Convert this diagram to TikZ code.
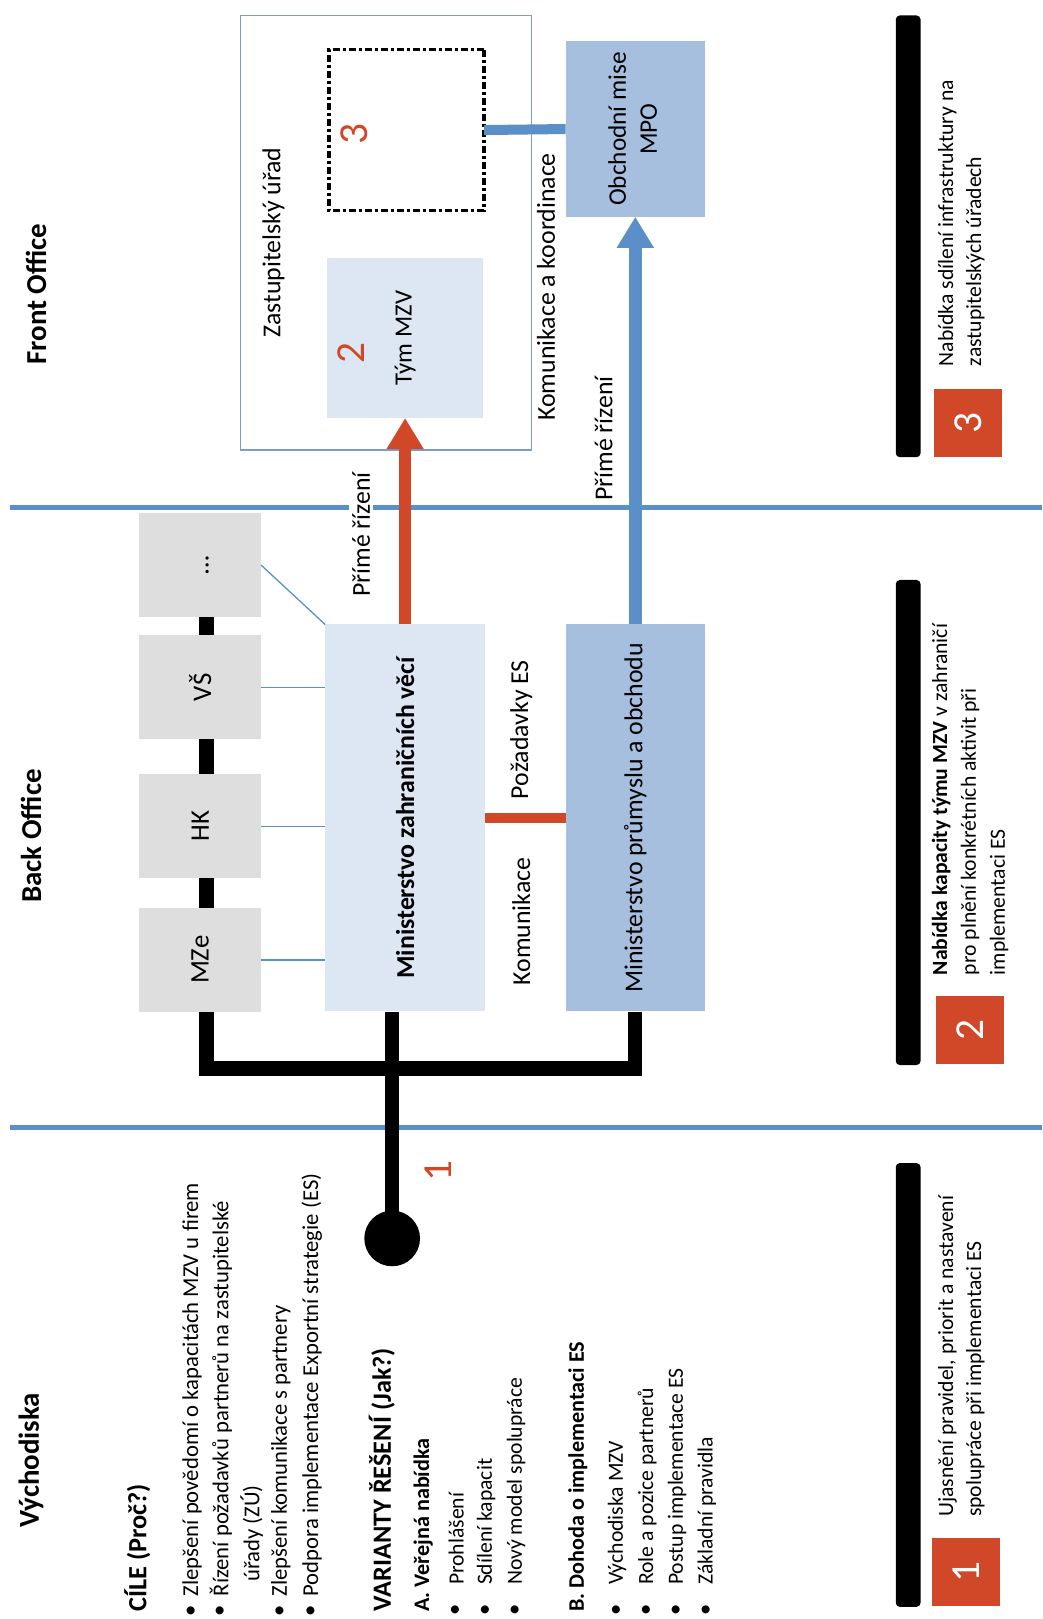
\documentclass[tikz,border=0pt]{standalone}
\usepackage{fontspec}
\setmainfont{Carlito}
\usepackage{graphicx}
\usetikzlibrary{arrows.meta,backgrounds}
\definecolor{bl}{RGB}{91,143,199}
\definecolor{rd}{RGB}{209,72,41}
\definecolor{lb}{RGB}{221,231,243}
\definecolor{mb}{RGB}{167,191,222}
\definecolor{gr}{RGB}{222,222,222}
\definecolor{ob}{RGB}{124,156,200}
\tikzset{
 txt/.style={rotate=90, inner sep=0pt, anchor=west, font=\fontsize{22}{27}\selectfont},
 ltxt/.style={txt, font=\fontsize{21}{26}\selectfont},
 hd/.style={txt, font=\bfseries\fontsize{25.5}{30}\selectfont},
 shd/.style={txt, font=\bfseries\fontsize{21.5}{26}\selectfont},
 bul/.style={rotate=90, inner sep=0pt, font=\fontsize{22}{27}\selectfont},
 sec/.style={rotate=90, inner sep=0pt, font=\bfseries\fontsize{28}{32}\selectfont},
 clbl/.style={rotate=90, inner sep=0pt, font=\fontsize{25}{30}\selectfont},
 box/.style={inner sep=0pt, outer sep=0pt, draw=none, font=\fontsize{25}{30}\selectfont},
 gbox/.style={box, fill=gr, minimum width=118pt, minimum height=101pt, font=\fontsize{26}{30}\selectfont},
 blk/.style={line width=14.5pt, black},
 sepl/.style={line width=5pt, bl},
 thinl/.style={line width=1.3pt, bl},
 redc/.style={line width=10pt, rd},
 arr/.style={line width=12.5pt, -{Triangle[width=35pt,length=31pt]}},
 num/.style={rotate=90, inner sep=0pt, text=rd, font=\fontsize{40}{40}\selectfont},
 bar/.style={fill=black, rounded corners=4pt, minimum width=24pt, inner sep=0pt},
 sq/.style={fill=rd, minimum size=66pt, inner sep=0pt, text=white, font=\fontsize{40}{40}\selectfont},
}
\begin{document}
\begin{tikzpicture}[x=1pt,y=-1pt,scale=1.032,every node/.append style={transform shape}]
\useasboundingbox (0,0) rectangle (1010.66,1568.8);
% section titles
\node[sec] (fo) at (35,285) {Front Office};
\node[sec] (bo) at (30,810) {Back Office};
\node[sec] (vy) at (30,1415) {Východiska};

% front office
\node[box, draw=ob, line width=1.5pt, fill=white, minimum width=282pt, minimum height=421pt] (zu) at (374,225.5) {};
\node[clbl] (zul) at (265,235) {Zastupitelský úřad};
\node[box, fill=lb, minimum width=151pt, minimum height=155pt, font=\fontsize{24}{29}\selectfont] (tym) at (392.5,327.5) {\rotatebox{90}{Tým MZV}};
\node[num] (n2) at (340,342) {2};
\node[box, draw=black, line width=3.8pt, dash pattern=on 7pt off 3pt on 3pt off 3pt, minimum width=150pt, minimum height=156pt] (dot) at (394,126) {};
\node[num] (n3) at (343,130) {3};
\node[box, fill=mb, minimum width=135pt, minimum height=170pt, font=\fontsize{24.5}{30}\selectfont] (om) at (615.5,125) {\rotatebox{90}{\begin{tabular}{@{}c@{}}Obchodní mise\\MPO\end{tabular}}};
\node[clbl] (kak) at (529,278) {Komunikace a koordinace};

% back office
\node[gbox] (dots) at (194,547.5) {\rotatebox{90}{\vphantom{MZe}…}};
\node[gbox] (vs) at (194,666) {\rotatebox{90}{VŠ}};
\node[gbox] (hk) at (194,800.5) {\rotatebox{90}{HK}};
\node[gbox] (mze) at (194,930) {\rotatebox{90}{MZe}};
\node[box, fill=lb, minimum width=155pt, minimum height=375pt] (mzv) at (392.5,792.5) {\rotatebox{90}{\bfseries Ministerstvo zahraničních věcí}};
\node[box, fill=mb, minimum width=135pt, minimum height=375pt] (mpo) at (615.5,792.5) {\rotatebox{90}{Ministerstvo průmyslu a obchodu}};
\node[clbl] (poz) at (505,707) {Požadavky ES};
\node[clbl] (kom) at (505,893) {Komunikace};
\node[circle, fill=black, minimum size=54pt, inner sep=0pt] (c1) at (380,1200) {};
\node[num] (n1) at (425,1135) {1};

\coordinate (jl) at (200,1035);
\coordinate (jm) at (380,1035);
\coordinate (jr) at (615,1035);

\begin{pgfonlayer}{background}
\draw[sepl] (10,492) -- (1010,492);
\draw[sepl] (10,1093) -- (1010,1093);
\draw[blk] (jl |- dots.south) -- (jl) -- (jr) -- (jr |- mpo.south);
\draw[blk] (jm |- mzv.south) -- (c1.center);
\end{pgfonlayer}

\draw[thinl] (mze.east) -- (mze.east -| mzv.west);
\draw[thinl] (hk.east) -- (hk.east -| mzv.west);
\draw[thinl] (vs.east) -- (vs.east -| mzv.west);
\draw[thinl] (dots.east) -- (mzv.north west);
\draw[redc] (mzv.east) -- (mpo.west);
\node[clbl, fill=white, inner sep=3pt] (pr1) at (350,518) {Přímé řízení};
\node[clbl] (pr2) at (585,425) {Přímé řízení};
\draw[arr, rd] (mzv.north) -- (tym.south);
\draw[arr, bl] (mpo.north) -- (om.south);
\draw[line width=10pt, bl] (dot.east) -- (om.west);

% legend
\node[bar, minimum height=428pt] (b3) at (880,229) {};
\node[bar, minimum height=470pt] (b2) at (880,797) {};
\node[bar, minimum height=430pt] (b1) at (880,1342) {};
\node[sq] (s3) at (938,410) {\rotatebox{90}{3}};
\node[sq] (s2) at (940,998) {\rotatebox{90}{2}};
\node[sq] (s1) at (936,1523) {\rotatebox{90}{1}};
\node[ltxt] (l31) at (918,355) {Nabídka sdílení infrastruktury na};
\node[ltxt] (l32) at (945,355) {zastupitelských úřadech};
\node[ltxt] (l21) at (912,945) {\textbf{Nabídka kapacity týmu MZV} v zahraničí};
\node[ltxt] (l22) at (940,945) {pro plnění konkrétních aktivit při};
\node[ltxt] (l23) at (968,945) {implementaci ES};
\node[ltxt] (l11) at (918,1470) {Ujasnění pravidel, priorit a nastavení};
\node[ltxt] (l12) at (945,1470) {spolupráce při implementaci ES};

% left text block
\node[hd] (cile) at (133,1562) {CÍLE (Proč?)};
\foreach \x/\y/\t [count=\i] in {186/1547/{Zlepšení povědomí o kapacitách MZV u firem},214/1547/{Řízení požadavků partnerů na zastupitelské},244/1533/{úřady (ZÚ)},272/1547/{Zlepšení komunikace s partnery},302/1547/{Podpora implementace Exportní strategie (ES)}}
  \node[txt] (g\i) at (\x,\y) {\t};
\foreach \x [count=\i] in {186,214,272,302}
  \node[bul] (gb\i) at (\x,1561) {•};
\node[hd] (var) at (370,1562) {VARIANTY ŘEŠENÍ (Jak?)};
\node[shd] (va) at (410,1562) {A. Veřejná nabídka};
\node[shd] (vb) at (560,1562) {B. Dohoda o implementaci ES};
\foreach \x/\t [count=\i] in {442/{Prohlášení},471/{Sdílení kapacit},500/{Nový model spolupráce},598/{Východiska MZV},627/{Role a pozice partnerů},656/{Postup implementace ES},685/{Základní pravidla}}
  {\node[ltxt] (v\i) at (\x,1536) {\t};
   \node[bul] (vbul\i) at (\x,1560) {•};}
\end{tikzpicture}
\end{document}
